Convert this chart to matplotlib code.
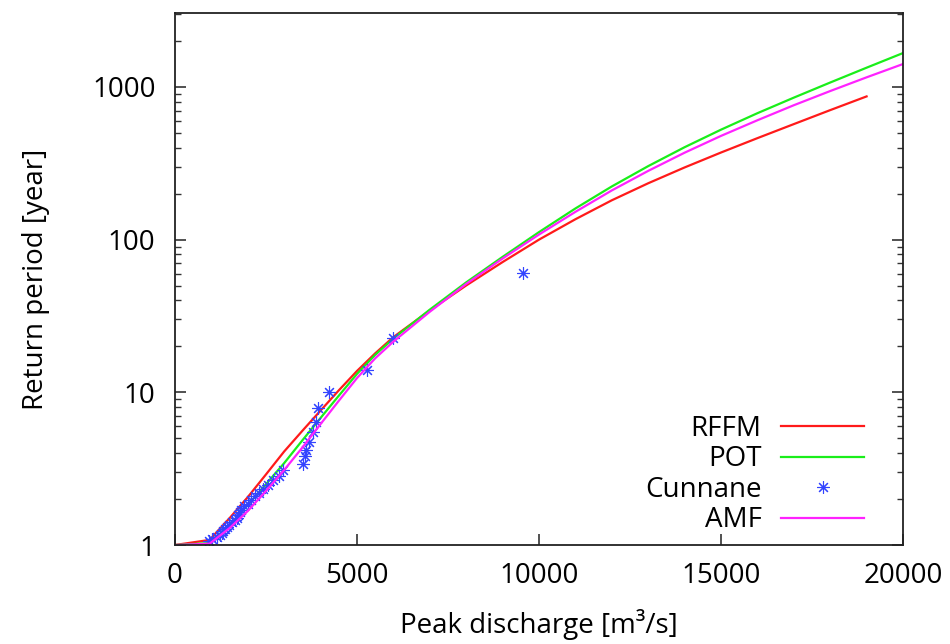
import matplotlib
matplotlib.use("Agg")
import matplotlib.pyplot as plt
from matplotlib.ticker import FixedLocator, LogLocator, NullFormatter

plt.rcParams["font.family"] = ["Open Sans", "DejaVu Sans"]

# Fitted curves: discharge [m3/s] -> return period [year]
rffm_q = [0, 950, 1500, 2000, 2500, 3000, 3500, 4000, 4500, 5000, 5500,
          6000, 7000, 8000, 9000, 10000, 11000, 12000, 13000, 14000,
          15000, 16000, 17000, 18000, 19000]
rffm_t = [1.0, 1.08, 1.5, 2.06, 2.9, 4.1, 5.6, 7.6, 10.3, 13.8, 18.0,
          23, 34.4, 50.1, 71.3, 100, 136, 181, 234, 297,
          372, 462, 571, 705, 867]

pot_q = [0, 950, 1500, 2000, 2500, 3000, 3500, 4000, 4500, 5000, 5500,
         6000, 7000, 8000, 9000, 10000, 11000, 12000, 13000, 14000,
         15000, 16000, 17000, 18000, 19000, 20000]
pot_t = [1.0, 1.03, 1.35, 1.83, 2.5, 3.44, 4.85, 6.8, 9.5, 13.2, 17.6,
         22.5, 34.8, 52.5, 77.1, 112, 160, 223, 303, 403,
         525, 673, 851, 1069, 1337, 1667]

amf_q = [0, 950, 1500, 2000, 2500, 3000, 3500, 4000, 4500, 5000, 5500,
         6000, 7000, 8000, 9000, 10000, 11000, 12000, 13000, 14000,
         15000, 16000, 17000, 18000, 19000, 20000]
amf_t = [1.0, 1.02, 1.29, 1.67, 2.26, 3.1, 4.35, 6.2, 8.8, 12.4, 16.7,
         21.5, 33.7, 51.3, 75.2, 108, 152, 210, 282, 371,
         478, 605, 759, 940, 1156, 1413]

# Cunnane plotting positions of the observed peaks
cun_q = [9560, 6000, 5270, 4230, 3930, 3870, 3790, 3680, 3590, 3560, 3520,
         2960, 2850, 2700, 2560, 2420, 2300, 2200, 2100, 2000, 1900, 1820,
         1780, 1740, 1700, 1650, 1560, 1480, 1420, 1380, 1330, 1280, 1240,
         1150, 1020, 940]
cun_t = [60.3, 22.6, 13.9, 10.06, 7.87, 6.35, 5.48, 4.72, 4.21, 3.80, 3.40,
         3.08, 2.85, 2.65, 2.48, 2.32, 2.19, 2.08, 1.97, 1.87, 1.79, 1.70,
         1.64, 1.57, 1.51, 1.46, 1.41, 1.36, 1.32, 1.28, 1.24, 1.20, 1.16,
         1.13, 1.10, 1.07]

x_ticks = [0, 5000, 10000, 15000, 20000]
y_ticks = [1, 10, 100, 1000]


def main():
    fig = plt.figure(figsize=(9.5, 6.44), dpi=100)
    ax = fig.add_axes([0.1842, 0.1537, 0.7663, 0.8261])

    ax.plot(rffm_q, rffm_t, color="#ff1a1a", lw=1.6, label="RFFM")
    ax.plot(pot_q, pot_t, color="#1aee1a", lw=1.6, label="POT")
    ax.plot(cun_q, cun_t, ls="none", marker=(8, 2, 0), ms=9, mew=0.8,
            color="#3344ff", label="Cunnane")
    ax.plot(amf_q, amf_t, color="#ff22ff", lw=1.6, label="AMF")

    ax.set_yscale("log")
    ax.set_xlim(0, 20000)
    ax.set_ylim(1, 3050)

    ax.xaxis.set_major_locator(FixedLocator(x_ticks))
    ax.set_xticklabels([str(v) for v in x_ticks])
    ax.yaxis.set_major_locator(FixedLocator(y_ticks))
    ax.set_yticklabels([str(v) for v in y_ticks])
    ax.yaxis.set_minor_locator(LogLocator(base=10, subs=range(2, 10)))
    ax.yaxis.set_minor_formatter(NullFormatter())

    ax.tick_params(axis="both", which="both", direction="in",
                   labelsize=20, color="#333333")
    ax.tick_params(axis="x", which="major", length=8, width=1.2, pad=12,
                   top=False)
    ax.tick_params(axis="y", which="major", length=8, width=1.2, pad=14,
                   right=True)
    ax.tick_params(axis="y", which="minor", length=4, width=1.0, right=True)

    for sp in ax.spines.values():
        sp.set_linewidth(1.3)
        sp.set_color("#222222")

    ax.set_xlabel("Peak discharge [m³/s]", fontsize=20, labelpad=14)
    ax.set_ylabel("Return period [year]", fontsize=20, labelpad=30)

    ax.legend(loc="lower right", bbox_to_anchor=(0.947, 0.02),
              frameon=False, markerfirst=False, fontsize=20,
              handlelength=3.0, handletextpad=0.7, labelspacing=0.09,
              borderpad=0, borderaxespad=0)

    fig.savefig("out.png", dpi=100)


if __name__ == "__main__":
    main()
